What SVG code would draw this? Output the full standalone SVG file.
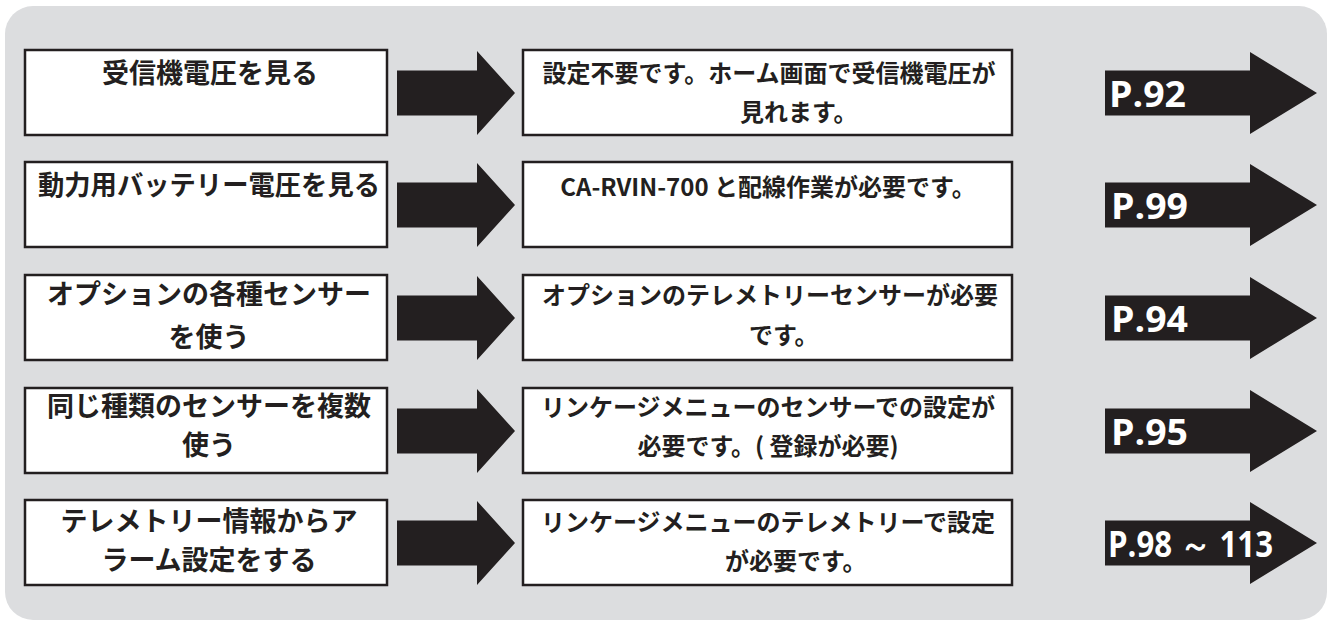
<svg xmlns="http://www.w3.org/2000/svg" width="1332" height="622" viewBox="0 0 1332 622">
<style>
.bg{fill:#dcdddf}
.box{fill:#fff;stroke:#231f20;stroke-width:2.5}
.arr{fill:#231f20}
.jl{font-family:"Noto Sans CJK JP","Noto Sans",sans-serif;font-weight:700;font-size:27px;fill:#231f20;text-anchor:middle}
.jm{font-family:"Noto Sans CJK JP","Noto Sans",sans-serif;font-weight:700;font-size:24px;fill:#231f20;text-anchor:middle}
.js{text-anchor:start}
.pg{font-family:"Open Sans","Noto Sans",sans-serif;font-weight:700;font-size:35px;fill:#fff}
</style>
<defs>
<path id="la" d="M0,-22.5 H80 V-42 L118,0 L80,42 V22.5 H0 Z"/>
<path id="ra" d="M0,-22.5 H145 V-41 L212,0 L145,41 V22.5 H0 Z"/>
</defs>
<rect class="bg" x="5" y="6" width="1322" height="614" rx="28"/>
<g id="connectors">
<use href="#la" class="arr" x="397" y="93"/>
<use href="#la" class="arr" x="397" y="205"/>
<use href="#la" class="arr" x="397" y="318"/>
<use href="#la" class="arr" x="397" y="431"/>
<use href="#la" class="arr" x="397" y="543"/>
</g>
<g id="row1-left"><rect class="box" x="25" y="50" width="362" height="85"/><text class="jl" x="210" y="83">受信機電圧を見る</text></g>
<g id="row1-mid"><rect class="box" x="523" y="50" width="489" height="85"/><text class="jm" x="769" y="82">設定不要です。ホーム画面で受信機電圧が</text><text class="jm js" x="740" y="121">見れます。</text></g>
<g id="row1-ref"><use href="#ra" class="arr" x="1105" y="93"/><text class="pg" x="1109" y="107" textLength="77" lengthAdjust="spacingAndGlyphs">P.92</text></g>

<g id="row2-left"><rect class="box" x="25" y="162" width="362" height="85"/><text class="jl" x="209" y="195" textLength="342" lengthAdjust="spacingAndGlyphs">動力用バッテリー電圧を見る</text></g>
<g id="row2-mid"><rect class="box" x="523" y="162" width="489" height="85"/><text class="jm" x="768" y="196">CA-RVIN-700 と配線作業が必要です。</text></g>
<g id="row2-ref"><use href="#ra" class="arr" x="1105" y="205"/><text class="pg" x="1111" y="219" textLength="77" lengthAdjust="spacingAndGlyphs">P.99</text></g>

<g id="row3-left"><rect class="box" x="25" y="275" width="362" height="85"/><text class="jl" x="209" y="304">オプションの各種センサー</text><text class="jl" x="209" y="347">を使う</text></g>
<g id="row3-mid"><rect class="box" x="523" y="275" width="489" height="85"/><text class="jm" x="770" y="304">オプションのテレメトリーセンサーが必要</text><text class="jm js" x="749" y="344">です。</text></g>
<g id="row3-ref"><use href="#ra" class="arr" x="1105" y="318"/><text class="pg" x="1111" y="332" textLength="77" lengthAdjust="spacingAndGlyphs">P.94</text></g>

<g id="row4-left"><rect class="box" x="25" y="388" width="362" height="85"/><text class="jl" x="209" y="416">同じ種類のセンサーを複数</text><text class="jl" x="209" y="455">使う</text></g>
<g id="row4-mid"><rect class="box" x="523" y="388" width="489" height="85"/><text class="jm" x="768" y="416">リンケージメニューのセンサーでの設定が</text><text class="jm" x="768" y="455">必要です。( 登録が必要)</text></g>
<g id="row4-ref"><use href="#ra" class="arr" x="1105" y="431"/><text class="pg" x="1111" y="445" textLength="77" lengthAdjust="spacingAndGlyphs">P.95</text></g>

<g id="row5-left"><rect class="box" x="25" y="500" width="362" height="85"/><text class="jl" x="209" y="531">テレメトリー情報からア</text><text class="jl" x="209" y="570">ラーム設定をする</text></g>
<g id="row5-mid"><rect class="box" x="523" y="500" width="489" height="85"/><text class="jm" x="768" y="531">リンケージメニューのテレメトリーで設定</text><text class="jm js" x="725" y="570">が必要です。</text></g>
<g id="row5-ref"><use href="#ra" class="arr" x="1105" y="543"/><text class="pg" x="1108" y="557" font-size="37" textLength="165" lengthAdjust="spacingAndGlyphs">P.98 ～ 113</text></g>
</svg>
